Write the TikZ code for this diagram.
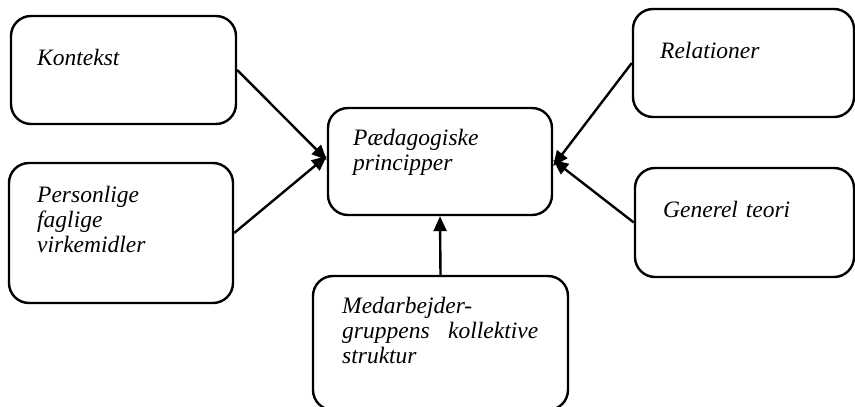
\documentclass[tikz,border=0pt]{standalone}
\usepackage{fontspec}
\setmainfont{Liberation Serif}[ItalicFont={Liberation Serif Italic}]
\usetikzlibrary{arrows.meta}
\begin{document}
\begin{tikzpicture}[x=1pt,y=-1pt,
  box/.style={draw,line width=2.4pt,rounded corners=20pt,inner sep=0pt},
  txt/.style={anchor=base west,inner sep=0pt,align=left,text width=#1,
    font=\fontsize{23.5}{25}\selectfont\itshape},
  txt/.default=200pt,
  link/.style={line width=2.4pt,-{Triangle[length=15pt,width=13pt]}}]
\useasboundingbox (0,0) rectangle (855,407);

% frames
\node[box,minimum width=225pt,minimum height=108pt] (kon) at (123.5,70) {};
\node[box,minimum width=224pt,minimum height=140pt] (per) at (121,233) {};
\node[box,minimum width=224pt,minimum height=107pt] (ped) at (440,161.5) {};
\node[box,minimum width=221pt,minimum height=108pt] (rel) at (743.5,63) {};
\node[box,minimum width=219pt,minimum height=109pt] (gen) at (744.5,222.5) {};
\node[box,minimum width=255pt,minimum height=134pt] (med) at (440.5,343) {};

% labels
\node[txt] (konT) at (37,65) {Kontekst};
\node[txt] (perT) at (37,202) {Personlige\\faglige\\virkemidler};
\node[txt] (pedT) at (353,145) {Pædagogiske\\principper};
\node[txt] (relT) at (660,58) {Relationer};
\node[txt] (genT) at (663,217) {Generel teori};
\node[txt=196pt] (medT) at (342,313) {Medarbejder-\\gruppens\hfill kollektive\\struktur};

% influences
\draw[link] (kon.east) -- ([yshift=1.5pt]ped.west);
\draw[link] (per.east) -- ([yshift=5.5pt]ped.west);
\draw[link] (rel.west) -- ([yshift=-4.5pt]ped.east);
\draw[link] (gen.west) -- ([yshift=1.5pt]ped.east);
\draw[link] (med.north) -- (ped.south);
\end{tikzpicture}
\end{document}
